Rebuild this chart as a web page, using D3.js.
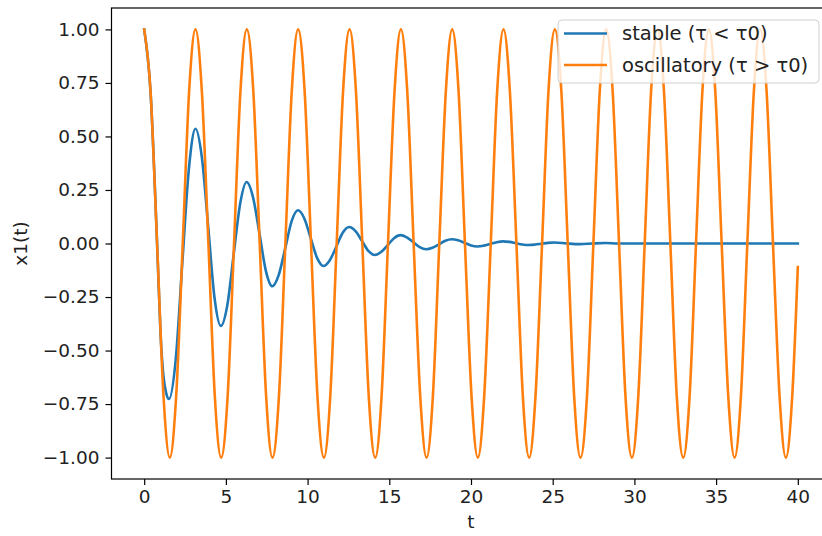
<!DOCTYPE html>
<html>
<head>
<meta charset="utf-8">
<script src="https://cdn.jsdelivr.net/npm/d3@7"></script>
<style>
  body { margin: 0; background: #fff; }
  svg { display: block; font-family: "DejaVu Sans", sans-serif; }
</style>
</head>
<body>
<svg id="chart"></svg>
<script>
// time samples and values
const tOsc = [0, 0.39, 0.79, 1.18, 1.57, 1.96, 2.36, 2.75, 3.14, 3.53, 3.93, 4.32, 4.71, 5.11, 5.50, 5.89,
  6.28, 6.68, 7.07, 7.46, 7.85, 8.25, 8.64, 9.03, 9.42, 9.82, 10.21, 10.60, 11.00, 11.39, 11.78, 12.17,
  12.57, 12.96, 13.35, 13.74, 14.14, 14.53, 14.92, 15.32, 15.71, 16.10, 16.49, 16.89, 17.28, 17.67, 18.06, 18.46,
  18.85, 19.24, 19.63, 20.03, 20.42, 20.81, 21.21, 21.60, 21.99, 22.38, 22.78, 23.17, 23.56, 23.95, 24.35, 24.74,
  25.13, 25.53, 25.92, 26.31, 26.70, 27.10, 27.49, 27.88, 28.27, 28.67, 29.06, 29.45, 29.85, 30.24, 30.63, 31.02,
  31.42, 31.81, 32.20, 32.59, 32.99, 33.38, 33.77, 34.16, 34.56, 34.95, 35.34, 35.74, 36.13, 36.52, 36.91, 37.31,
  37.70, 38.09, 38.48, 38.88, 39.27, 39.66, 40];
const xOsc = [1, 0.71, 0, -0.71, -1, -0.71, 0, 0.71, 1, 0.71, 0, -0.71, -1, -0.71, 0, 0.71,
  1, 0.71, 0, -0.71, -1, -0.71, 0, 0.71, 1, 0.71, 0, -0.71, -1, -0.71, 0, 0.71,
  1, 0.71, 0, -0.71, -1, -0.71, 0, 0.71, 1, 0.71, 0, -0.71, -1, -0.71, 0, 0.71,
  1, 0.71, 0, -0.71, -1, -0.71, 0, 0.71, 1, 0.71, 0, -0.71, -1, -0.71, 0, 0.71,
  1, 0.71, 0, -0.71, -1, -0.71, 0, 0.71, 1, 0.71, 0, -0.71, -1, -0.71, 0, 0.71,
  1, 0.71, 0, -0.71, -1, -0.71, 0, 0.71, 1, 0.71, 0, -0.71, -1, -0.71, 0, 0.71,
  1, 0.71, 0, -0.71, -1, -0.71, -0.11];

const tStable = [0, 0.39, 0.79, 1.00, 1.18, 1.35, 1.52, 1.93, 2.33, 2.74, 3.14, 3.53, 3.92, 4.30, 4.69,
  5.09, 5.48, 5.88, 6.27, 6.66, 7.06, 7.45, 7.84, 8.23, 8.63, 9.02, 9.41, 9.80, 10.19, 10.58, 10.97,
  11.36, 11.76, 12.15, 12.54, 12.93, 13.33, 13.72, 14.11, 14.50, 14.90, 15.29, 15.68, 16.07, 16.47, 16.86, 17.25,
  17.64, 18.04, 18.43, 18.82, 19.21, 19.61, 20.00, 20.39, 20.78, 21.18, 21.57, 21.96, 22.35, 22.75, 23.14, 23.53,
  23.92, 24.32, 24.71, 25.10, 25.88, 26.67, 27.45, 28.24, 29.0, 32, 36, 40];
const xStable = [1, 0.707, 0, -0.42, -0.62, -0.70, -0.726, -0.542, -0.095, 0.352, 0.536, 0.402, 0.076, -0.251, -0.385,
  -0.287, -0.049, 0.189, 0.287, 0.216, 0.044, -0.129, -0.20, -0.148, -0.023, 0.103, 0.155, 0.117, 0.025, -0.067, -0.105,
  -0.078, -0.014, 0.050, 0.077, 0.058, 0.012, -0.035, -0.054, -0.040, -0.008, 0.025, 0.039, 0.029, 0.006, -0.017, -0.027,
  -0.020, -0.004, 0.013, 0.020, 0.015, 0.003, -0.009, -0.014, -0.010, -0.002, 0.006, 0.010, 0.0075, 0.0015, -0.0045, -0.007,
  -0.005, -0.001, 0.003, 0.005, 0, -0.003, 0, 0.002, 0, 0, 0, 0];

const seriesNames = ['stable (τ < τ0)', 'oscillatory (τ > τ0)'];
const seriesColors = ['#1f77b4', '#ff7f0e'];
const xTicks = [0, 5, 10, 15, 20, 25, 30, 35, 40];
const yTicks = [-1, -0.75, -0.5, -0.25, 0, 0.25, 0.5, 0.75, 1];

const W = 822, H = 536;
const AX = {left: 111.5, right: 830.5, top: 8, bottom: 479};
const FONT = 18.5;
const LEGEND_FONT = 19.5;

const svg = d3.select('#chart').attr('width', W).attr('height', H);

const x = d3.scaleLinear().domain([-2, 42]).range([AX.left, AX.right]);
const y = d3.scaleLinear().domain([-1.1, 1.1]).range([AX.bottom, AX.top]);

svg.append('clipPath').attr('id', 'clip')
  .append('rect')
  .attr('x', AX.left).attr('y', AX.top)
  .attr('width', AX.right - AX.left).attr('height', AX.bottom - AX.top);

const plot = svg.append('g').attr('clip-path', 'url(#clip)');

const line = d3.line()
  .x(d => x(d[0]))
  .y(d => y(d[1]))
  .curve(d3.curveMonotoneX);

const series = [d3.zip(tStable, xStable), d3.zip(tOsc, xOsc)];

plot.selectAll('.series')
  .data(series)
  .enter()
  .append('path')
  .classed('series', true)
  .attr('d', line)
  .attr('fill', 'none')
  .attr('stroke', (d, i) => seriesColors[i])
  .attr('stroke-width', 2.6)
  .attr('stroke-linejoin', 'round')
  .attr('stroke-linecap', 'square');

// axes
const fmtY = d => d3.format('.2f')(d).replace('-', '\u2212');

const xAxis = svg.append('g')
  .attr('transform', `translate(0, ${AX.bottom})`)
  .call(d3.axisBottom(x).tickValues(xTicks).tickSize(6).tickPadding(5).tickSizeOuter(0));

const yAxis = svg.append('g')
  .attr('transform', `translate(${AX.left}, 0)`)
  .call(d3.axisLeft(y).tickValues(yTicks).tickFormat(fmtY).tickSize(6).tickPadding(6).tickSizeOuter(0));

[xAxis, yAxis].forEach(g => {
  g.select('.domain').remove();
  g.selectAll('line').attr('stroke', '#000').attr('stroke-width', 1.2);
  g.selectAll('text').attr('font-size', FONT).attr('fill', '#222').attr('font-family', '"DejaVu Sans", sans-serif');
});

// spines
svg.append('rect')
  .attr('x', AX.left).attr('y', AX.top)
  .attr('width', AX.right - AX.left).attr('height', AX.bottom - AX.top)
  .attr('fill', 'none').attr('stroke', '#000').attr('stroke-width', 1.2);

svg.append('text')
  .attr('x', (x(0) + x(40)) / 2).attr('y', 528)
  .attr('text-anchor', 'middle')
  .attr('font-size', FONT).attr('fill', '#222')
  .text('t');

svg.append('text')
  .attr('transform', `translate(27, ${(AX.top + AX.bottom) / 2}) rotate(-90)`)
  .attr('text-anchor', 'middle')
  .attr('font-size', FONT).attr('fill', '#222')
  .text('x1(t)');

// legend
const legend = svg.append('g');
legend.append('rect')
  .attr('x', 558).attr('y', 20)
  .attr('width', 261).attr('height', 63)
  .attr('rx', 4)
  .attr('fill', 'rgba(255,255,255,0.8)')
  .attr('stroke', '#d0d0d0').attr('stroke-width', 1);

const items = legend.selectAll('.item')
  .data(seriesNames)
  .enter()
  .append('g')
  .classed('item', true)
  .attr('transform', (d, i) => `translate(0, ${33.5 + i * 31.5})`);

items.append('line')
  .attr('x1', 564).attr('x2', 607)
  .attr('stroke', (d, i) => seriesColors[i])
  .attr('stroke-width', 2.6);

items.append('text')
  .attr('x', 622).attr('dy', '0.35em')
  .attr('font-size', LEGEND_FONT).attr('fill', '#222')
  .text(d => d);
</script>
</body>
</html>
